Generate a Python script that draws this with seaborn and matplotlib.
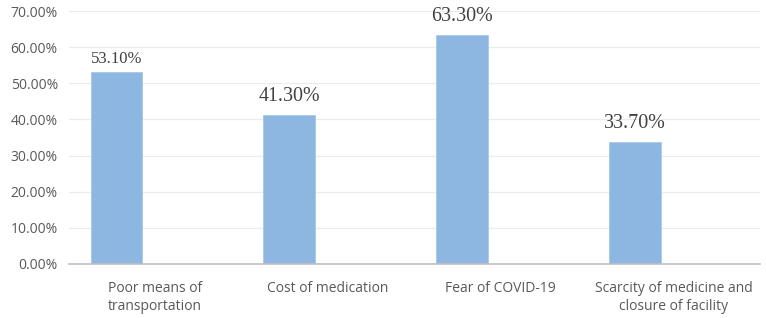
import numpy as np
import pandas as pd
import matplotlib
matplotlib.use("Agg")
import matplotlib.pyplot as plt
import seaborn as sns
from matplotlib.ticker import PercentFormatter

# dati
categorie = ["Poor means of\ntransportation", "Cost of medication",
             "Fear of COVID-19", "Scarcity of medicine and\nclosure of facility"]
valori = [53.10, 41.30, 63.30, 33.70]
etichette = ["53.10%", "41.30%", "63.30%", "33.70%"]
dim_etichette = [12, 14.4, 14.4, 14.4]

# Excel lascia uno spazio vuoto a destra di ogni barra: serie vuota
df = pd.DataFrame({
    "Categoria": categorie * 2,
    "Valore": valori + [np.nan] * len(valori),
    "Serie": ["a"] * len(valori) + ["b"] * len(valori),
})

sns.set_style("white")
fig = plt.figure(figsize=(7.66, 3.18), dpi=100)
ax = fig.add_axes([0.09, 0.17, 0.902, 0.795])

sns.barplot(data=df, x="Categoria", y="Valore", hue="Serie",
            palette={"a": "#8db6e0", "b": "#8db6e0"}, width=0.9, gap=0.333,
            legend=False, ax=ax, saturation=1, edgecolor="#a9c7e8", linewidth=0.6)

ax.set_ylim(0, 70)
ax.set_yticks(np.arange(0, 71, 10))
ax.yaxis.set_major_formatter(PercentFormatter(decimals=2))
ax.grid(axis="y", color="#ececec", linewidth=0.9)
ax.set_axisbelow(True)
for s in ["top", "right", "left"]:
    ax.spines[s].set_visible(False)
ax.spines["bottom"].set_color("#bfbfbf")
ax.spines["bottom"].set_linewidth(1.2)
ax.tick_params(axis="both", length=0, labelcolor="#595959")
for t in ax.get_yticklabels() + ax.get_xticklabels():
    t.set_family("Open Sans")
    t.set_fontsize(10)
for t in ax.get_xticklabels():
    t.set_linespacing(1.35)
ax.tick_params(axis="x", pad=12)
ax.tick_params(axis="y", pad=8)
ax.set_xlabel("")
ax.set_ylabel("")

# etichette sopra le barre
barre = [p for p in ax.patches if p.get_height() > 0][:len(valori)]
for p, txt, fs in zip(barre, etichette, dim_etichette):
    ax.annotate(txt, (p.get_x() + p.get_width() / 2, p.get_height()),
                xytext=(0, 6.5 if fs > 13 else 4), textcoords="offset points",
                ha="center", va="bottom", family="Liberation Serif",
                fontsize=fs, color="#404040")

fig.savefig("out.png", dpi=100)
